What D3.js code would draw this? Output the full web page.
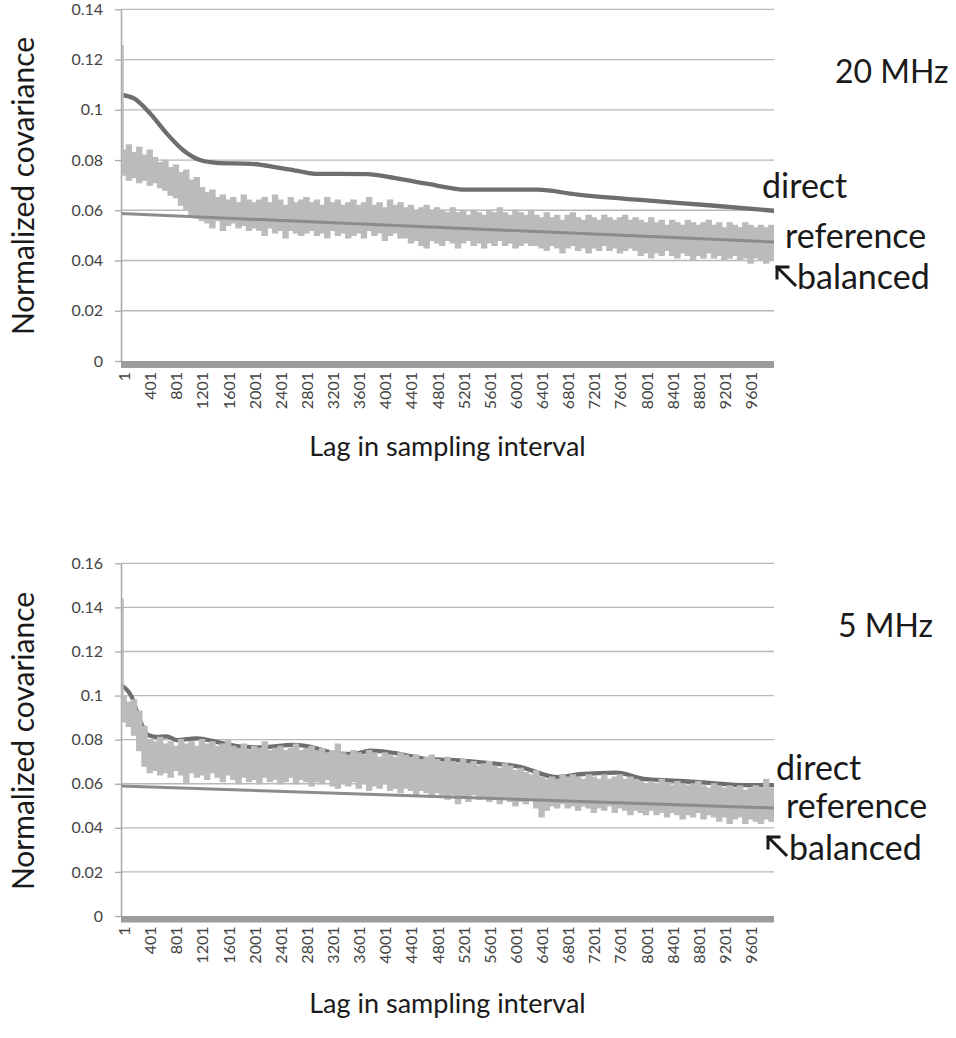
<!DOCTYPE html>
<html><head><meta charset="utf-8">
<script src="https://cdn.jsdelivr.net/npm/d3@7"></script>
<style>body{margin:0;background:#fff} svg{display:block}</style>
</head><body><svg id="c" width="956" height="1038"></svg>
<script>
// ---------- data ----------
const lagTicks = [1,401,801,1201,1601,2001,2401,2801,3201,3601,4001,4401,4801,5201,5601,6001,6401,6801,7201,7601,8001,8401,8801,9201,9601];
const yTicksTop = [0,0.02,0.04,0.06,0.08,0.1,0.12,0.14];
const yTicksBottom = [0,0.02,0.04,0.06,0.08,0.1,0.12,0.14,0.16];

// 20 MHz
const directLag20 = [1,200,444,700,950,1210,1465,2000,2400,2740,3000,3770,4200,4700,5300,6370,7000,8000,9000,10000];
const directVal20 = [0.106,0.1045,0.0986,0.0906,0.084,0.080,0.0789,0.0785,0.077,0.0755,0.0745,0.0744,0.0728,0.0705,0.0682,0.0682,0.0662,0.064,0.062,0.0598];
const referenceLag20 = [1,10000];
const referenceVal20 = [0.0587,0.0474];
const balancedSpike20 = 0.1258;
const balancedHigh20 = [0.084,0.086,0.083,0.085,0.082,0.084,
 0.081,0.079,0.080,0.077,0.078,
 0.075,0.076,0.072,0.073,0.069,
 0.067,0.068,0.065,0.066,0.064,
 0.065,0.063,0.066,0.064,0.063,
 0.064,0.065,0.063,0.066,0.064,0.062,0.065,0.063,0.064,
 0.065,0.063,0.064,0.062,0.065,0.063,0.064,0.062,0.063,0.064,0.062,0.063,0.065,0.062,0.063,0.061,0.064,0.062,0.063,
 0.061,0.062,0.060,0.061,0.062,0.060,0.061,
 0.060,0.059,0.061,0.059,0.060,0.058,0.060,0.059,0.058,0.060,0.059,0.061,0.059,0.058,0.060,0.059,0.058,0.060,
 0.058,0.057,0.059,0.057,0.058,0.056,0.058,0.059,0.057,0.056,0.058,0.057,0.056,0.058,0.057,0.056,0.057,0.058,0.056,
 0.057,0.056,0.055,0.057,0.055,0.056,0.054,0.056,0.055,0.054,0.056,0.055,0.054,0.055,0.056,0.054,0.055,0.053,0.055,0.054,0.053,0.055,0.054,0.053,0.054,0.053,0.054];
const balancedLow20 = [0.074,0.072,0.073,0.071,0.072,0.070,
 0.071,0.069,0.068,0.066,0.065,
 0.062,0.060,0.058,0.057,0.056,
 0.055,0.053,0.056,0.052,0.054,0.055,0.053,0.054,0.052,0.053,
 0.052,0.050,0.053,0.051,0.052,0.049,0.052,0.051,0.050,
 0.051,0.052,0.050,0.051,0.049,0.052,0.050,0.051,0.049,0.050,0.051,0.049,0.052,0.050,0.051,0.048,0.050,0.051,0.049,
 0.049,0.047,0.048,0.046,0.045,0.048,0.047,0.046,0.048,0.047,0.045,0.047,0.048,0.046,0.047,0.045,0.047,0.046,0.048,0.046,0.047,0.045,0.046,0.047,0.046,
 0.046,0.045,0.044,0.046,0.045,0.043,0.045,0.046,0.044,0.045,0.043,0.045,0.044,0.046,0.044,0.045,0.043,0.044,0.045,
 0.044,0.042,0.043,0.041,0.043,0.042,0.044,0.042,0.041,0.043,0.042,0.040,0.042,0.041,0.043,0.041,0.042,0.040,0.041,0.042,0.040,0.041,0.039,0.041,0.040,0.039,0.040];

// 5 MHz
const directLag5 = [1,163,290,415,545,700,853,1160,1465,1770,2130,2640,2845,3300,3560,3815,4170,4480,4730,5040,5395,5650,6110,6670,7030,7590,8000,8460,8970,9480,10000];
const directVal5 = [0.1048,0.0995,0.0889,0.0821,0.0813,0.0815,0.0798,0.0806,0.079,0.0771,0.0765,0.0776,0.0771,0.0738,0.0735,0.075,0.074,0.0723,0.0711,0.0708,0.070,0.0693,0.0677,0.0630,0.0643,0.0650,0.0622,0.0614,0.0605,0.0594,0.0594];
const referenceLag5 = [1,10000];
const referenceVal5 = [0.059,0.049];
const balancedSpike5 = 0.144;
const balancedHigh5 = [0.100,0.097,0.098,0.093,0.086,0.080,0.079,0.081,0.078,0.079,
 0.077,0.080,0.078,0.079,0.077,0.080,0.078,0.079,0.077,0.078,
 0.080,0.077,0.076,0.078,0.075,0.077,0.076,0.079,0.075,0.076,
 0.077,0.075,0.076,0.078,0.075,0.076,0.077,0.075,0.076,0.074,
 0.075,0.078,0.074,0.073,0.075,0.074,0.073,0.075,0.074,0.072,
 0.074,0.073,0.072,0.074,0.073,0.072,0.073,0.071,0.072,0.073,
 0.071,0.070,0.072,0.070,0.069,0.071,0.069,0.070,0.068,0.069,
 0.070,0.068,0.067,0.069,0.068,0.066,0.067,0.065,0.064,0.066,
 0.063,0.062,0.063,0.062,0.064,0.063,0.064,0.063,0.062,0.064,
 0.063,0.062,0.064,0.062,0.063,0.064,0.062,0.063,0.062,0.061,
 0.060,0.061,0.060,0.062,0.060,0.059,0.061,0.060,0.059,0.060,
 0.061,0.059,0.058,0.060,0.059,0.058,0.059,0.058,0.059,0.057,
 0.058,0.059,0.058,0.062,0.058];
const balancedLow5 = [0.088,0.086,0.082,0.075,0.068,0.065,0.066,0.064,0.065,0.063,
 0.066,0.064,0.060,0.065,0.063,0.064,0.062,0.065,0.063,0.061,
 0.064,0.062,0.060,0.063,0.061,0.062,0.060,0.063,0.061,0.062,
 0.060,0.061,0.063,0.060,0.062,0.061,0.059,0.061,0.060,0.062,
 0.059,0.058,0.060,0.059,0.061,0.058,0.060,0.057,0.059,0.058,
 0.060,0.057,0.058,0.056,0.058,0.057,0.055,0.057,0.056,0.054,
 0.056,0.055,0.053,0.055,0.051,0.054,0.052,0.055,0.053,0.054,
 0.052,0.053,0.051,0.053,0.052,0.050,0.052,0.051,0.053,0.049,
 0.045,0.048,0.050,0.049,0.051,0.049,0.050,0.048,0.050,0.049,
 0.047,0.049,0.048,0.050,0.047,0.049,0.048,0.046,0.048,0.047,
 0.046,0.048,0.046,0.047,0.045,0.047,0.046,0.044,0.046,0.045,
 0.047,0.044,0.046,0.045,0.043,0.045,0.042,0.044,0.045,0.042,
 0.044,0.043,0.042,0.044,0.043];
const balancedLagStep = 80; // lag spacing of balanced samples (1, 81, 161, ...)

// ---------- drawing ----------
const svg = d3.select("#c");
const FONT = "Lato, 'Open Sans', sans-serif";
const X0 = 121, X1 = 774;

const panels = [
  {id:"p20", yTicks:yTicksTop, top:9.3, base:361, barH:7,
   dLag:directLag20, dVal:directVal20, rLag:referenceLag20, rVal:referenceVal20,
   hi:balancedHigh20, lo:balancedLow20, spike:balancedSpike20,
   yTitleY:186, xTitleY:456,
   labels:[{t:"20 MHz",x:835,y:83,s:32},{t:"direct",x:762,y:198,s:34},{t:"reference",x:785,y:248,s:34},{t:"balanced",x:797,y:289,s:34}],
   arrow:[795,285]},
  {id:"p5", yTicks:yTicksBottom, top:563.3, base:916, barH:6.5,
   dLag:directLag5, dVal:directVal5, rLag:referenceLag5, rVal:referenceVal5,
   hi:balancedHigh5, lo:balancedLow5, spike:balancedSpike5,
   yTitleY:741, xTitleY:1013,
   labels:[{t:"5 MHz",x:838,y:637,s:32},{t:"direct",x:776,y:780,s:34},{t:"reference",x:786,y:818,s:34},{t:"balanced",x:789,y:860,s:34}],
   arrow:[786,855]}
];

panels.forEach(p => {
  const yMax = d3.max(p.yTicks);
  const x = d3.scaleLinear().domain([1, 10000]).range([X0, X1]);
  const y = d3.scaleLinear().domain([0, yMax]).range([p.base, p.top]);
  const g = svg.append("g");

  // gridlines
  g.append("g").selectAll("line").data(p.yTicks.filter(d => d > 0)).join("line")
    .attr("x1", X0).attr("x2", X1)
    .attr("y1", d => y(d)).attr("y2", d => y(d))
    .attr("stroke", "#b8b8b8").attr("stroke-width", 1.3);

  // y axis
  const ya = g.append("g").attr("transform", `translate(${X0},0)`)
    .call(d3.axisLeft(y).tickValues(p.yTicks).tickSize(6).tickSizeOuter(0).tickPadding(12)
      .tickFormat(d => d === 0 ? "0" : String(d)));
  ya.select(".domain").attr("stroke", "#a8a8a8").attr("stroke-width", 1.5);
  ya.selectAll(".tick line").attr("stroke", "#a8a8a8").attr("stroke-width", 1.3);
  ya.selectAll("text").attr("font-family", FONT).attr("font-size", 16).attr("fill", "#444");

  // clip
  const clipId = "clip-" + p.id;
  svg.append("clipPath").attr("id", clipId).append("rect")
    .attr("x", X0 + 0.8).attr("y", p.top - 5).attr("width", X1 - X0 - 0.8).attr("height", p.base - p.top + 5);
  const plot = g.append("g").attr("clip-path", `url(#${clipId})`);

  // direct
  const dPts = p.dLag.map((l, i) => [l, p.dVal[i]]);
  plot.append("path").datum(dPts)
    .attr("d", d3.line().x(d => x(d[0])).y(d => y(d[1])).curve(d3.curveMonotoneX))
    .attr("fill", "none").attr("stroke", "#6e6e6e").attr("stroke-width", 4.3).attr("stroke-linecap", "round");

  // balanced band
  const bPts = p.hi.map((h, i) => ({l: 1 + i * balancedLagStep, hi: h, lo: p.lo[i]}));
  const last = bPts[bPts.length - 1];
  bPts.push({l: 10000, hi: last.hi, lo: last.lo});
  plot.append("path").datum(bPts)
    .attr("d", d3.area().x(d => x(d.l)).y0(d => y(d.lo)).y1(d => y(d.hi)).curve(d3.curveStepAfter))
    .attr("fill", "#bbbbbd").attr("stroke", "#bbbbbd").attr("stroke-width", 1.2);
  // spike at the first lag
  plot.append("path").datum([[20, p.lo[0]], [20, p.spike]])
    .attr("d", d3.line().x(d => x(d[0])).y(d => y(d[1])))
    .attr("stroke", "#bbbbbd").attr("stroke-width", 3);

  // reference
  const rPts = p.rLag.map((l, i) => [l, p.rVal[i]]);
  plot.append("path").datum(rPts)
    .attr("d", d3.line().x(d => x(d[0])).y(d => y(d[1])))
    .attr("fill", "none").attr("stroke", "#8c8c8c").attr("stroke-width", 3);

  // thick category axis bar
  g.append("rect").attr("x", X0).attr("y", y(0)).attr("width", X1 - X0).attr("height", p.barH).attr("fill", "#9c9c9c");

  // x axis labels
  const xa = g.append("g").attr("transform", `translate(0,${y(0) + p.barH})`)
    .call(d3.axisBottom(x).tickValues(lagTicks).tickSize(0).tickFormat(String));
  xa.select(".domain").remove();
  xa.selectAll("text")
    .attr("transform", "rotate(-90)").attr("x", -4).attr("y", 3).attr("dy", "0.35em")
    .style("text-anchor", "end")
    .attr("font-family", FONT).attr("font-size", 16).attr("fill", "#444");

  // axis titles
  svg.append("text").attr("transform", `translate(34,${p.yTitleY}) rotate(-90)`)
    .attr("text-anchor", "middle").attr("font-family", FONT).attr("font-size", 30).attr("fill", "#1a1a1a")
    .text("Normalized covariance");
  svg.append("text").attr("x", (X0 + X1) / 2).attr("y", p.xTitleY)
    .attr("text-anchor", "middle").attr("font-family", FONT).attr("font-size", 27).attr("fill", "#1a1a1a")
    .text("Lag in sampling interval");

  // series labels
  svg.append("g").selectAll("text").data(p.labels).join("text")
    .attr("x", d => d.x).attr("y", d => d.y)
    .attr("font-family", FONT).attr("font-size", d => d.s).attr("fill", "#1a1a1a")
    .text(d => d.t);

  // arrow pointing to balanced series
  const [ax, ay] = p.arrow;
  svg.append("path")
    .attr("d", `M${ax},${ay} L${ax - 18},${ay - 18} M${ax - 18},${ay - 18} L${ax - 18},${ay - 7} M${ax - 18},${ay - 18} L${ax - 7},${ay - 18}`)
    .attr("fill", "none").attr("stroke", "#1a1a1a").attr("stroke-width", 3).attr("stroke-linecap", "square");
});
</script>
</body></html>
